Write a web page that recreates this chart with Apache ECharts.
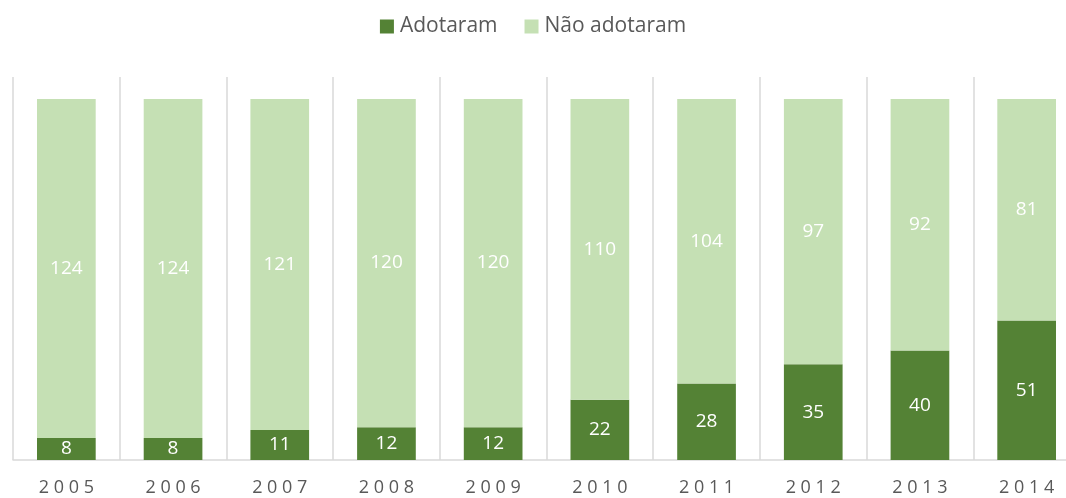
<!DOCTYPE html>
<html>
<head>
<meta charset="utf-8">
<script src="https://cdn.jsdelivr.net/npm/echarts@6/dist/echarts.min.js"></script>
<style>
  html, body { margin: 0; padding: 0; background: #fff; }
  #chart { width: 1066px; height: 498px; }
</style>
</head>
<body>
<div id="chart"></div>
<script>
var years = ['2005', '2006', '2007', '2008', '2009', '2010', '2011', '2012', '2013', '2014']
var adotaram = [8, 8, 11, 12, 12, 22, 28, 35, 40, 51]
var naoAdotaram = [124, 124, 121, 120, 120, 110, 104, 97, 92, 81]

var chart = echarts.init(document.getElementById('chart'))

var labelStyle = {
  show: true,
  position: 'inside',
  color: '#fff',
  fontSize: 19,
  fontFamily: 'Open Sans'
}

var option = {
  animation: false,
  legend: {
    top: 11,
    left: 'center',
    icon: 'rect',
    itemWidth: 14,
    itemHeight: 14,
    itemGap: 27,
    textStyle: { color: '#595959', fontSize: 21, fontFamily: 'Open Sans', padding: [0, 0, 0, 1] },
    data: ['Adotaram', 'Não adotaram']
  },
  // the last category runs past the right edge in the original
  grid: { left: 13, width: 1067, top: 77, bottom: 38, outerBoundsMode: 'none' },
  xAxis: {
    type: 'category',
    data: years,
    axisLine: { lineStyle: { color: '#d9d9d9', width: 1.5 } },
    axisTick: { show: false },
    splitLine: { show: true, lineStyle: { color: '#d9d9d9', width: 1.5 } },
    axisLabel: {
      color: '#595959',
      fontSize: 18,
      fontFamily: 'Open Sans',
      margin: 19,
      formatter: function (v) { return v.split('').join(' ') }
    }
  },
  yAxis: {
    type: 'value',
    min: 0,
    max: 140,
    show: false,
    splitLine: { show: false }
  },
  series: [
    {
      name: 'Adotaram',
      type: 'bar',
      stack: 'total',
      barWidth: '55%',
      itemStyle: { color: '#548235' },
      label: labelStyle,
      data: adotaram
    },
    {
      name: 'Não adotaram',
      type: 'bar',
      stack: 'total',
      barWidth: '55%',
      itemStyle: { color: '#c5e0b4' },
      label: labelStyle,
      data: naoAdotaram
    }
  ]
}

chart.setOption(option)
</script>
</body>
</html>
